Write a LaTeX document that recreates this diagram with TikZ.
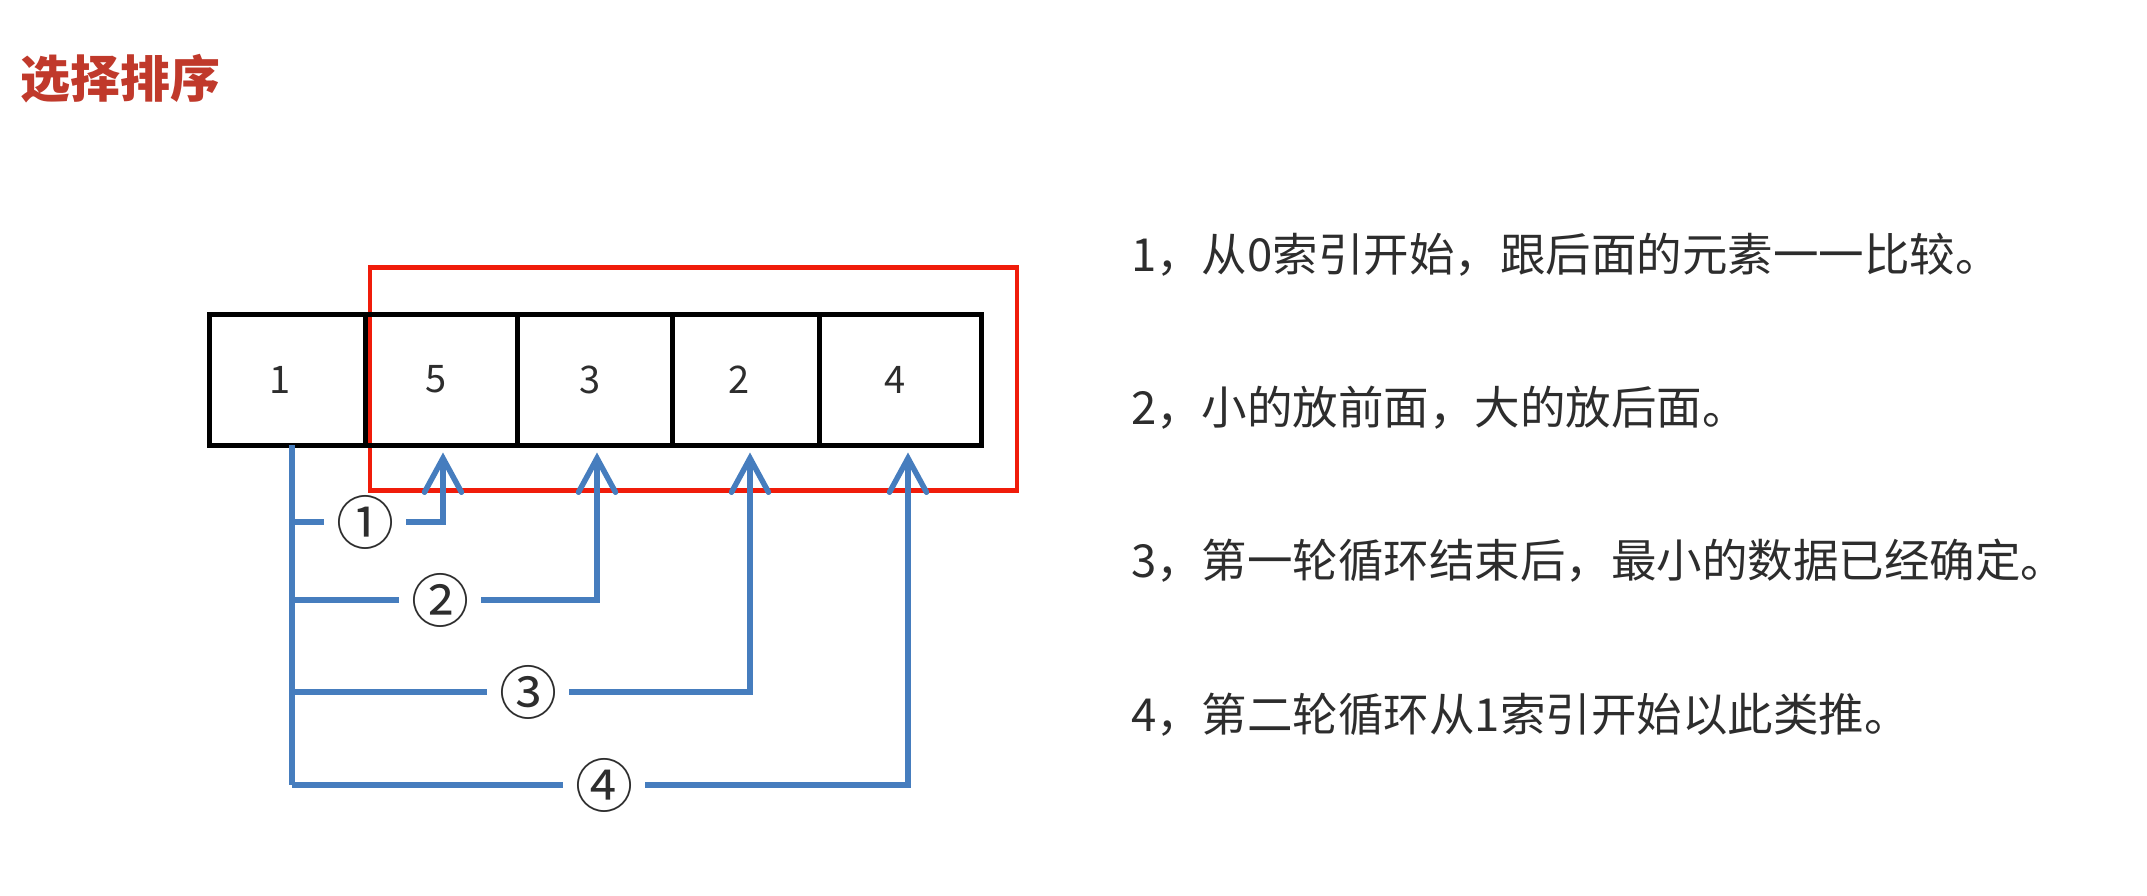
\documentclass[tikz,border=0pt]{standalone}
\usepackage{fontspec}
\newfontfamily\cjk{Noto Sans CJK SC}
\usetikzlibrary{arrows.meta}
\definecolor{titlered}{RGB}{192,57,43}
\definecolor{boxred}{RGB}{240,28,10}
\definecolor{arrowblue}{RGB}{70,125,190}
\definecolor{txtgray}{RGB}{45,45,45}
\tikzset{
  cell/.style={draw=black, line width=5pt, minimum height=131pt, inner sep=0pt,
    font=\cjk\fontsize{38}{44}\selectfont, text=txtgray},
  redbox/.style={draw=boxred, line width=4.5pt, inner sep=0pt},
  bl/.style={draw=arrowblue, line width=5.5pt},
  blarrow/.style={bl, -{Straight Barb[length=34pt,width=37pt,line cap=round]}, shorten >=5pt},
  lab/.style={inner sep=0pt, minimum width=82pt, minimum height=44pt, font=\cjk\fontsize{58}{60}\selectfont, text=txtgray},
  txt/.style={anchor=west, inner sep=0pt, font=\cjk\fontsize{45.5}{50}\selectfont, text=txtgray},
  ttl/.style={anchor=west, inner sep=0pt, font=\cjk\bfseries\fontsize{50}{56}\selectfont, text=titlered}
}
\begin{document}
\begin{tikzpicture}[x=1pt,y=-1pt]
\useasboundingbox[fill=white] (0,0) rectangle (2147,896);
% title
\node[ttl] (title) at (20,79) {选择排序};
% red selection box
\node[redbox, minimum width=647pt, minimum height=223pt] (sel) at (693.5,379) {};
% array cells
\node[cell, minimum width=156pt] (c1) at (287,379.5) {\hspace*{-14pt}1};
\node[cell, minimum width=152pt] (c2) at (441,379.5) {\hspace*{-10pt}5};
\node[cell, minimum width=155pt] (c3) at (594.5,379.5) {\hspace*{-8pt}3};
\node[cell, minimum width=147pt] (c4) at (745.5,379.5) {\hspace*{-12pt}2};
\node[cell, minimum width=162pt] (c5) at (900,379.5) {\hspace*{-10pt}4};
% coordinates
\coordinate (t0) at (292,445);
\coordinate (b1) at (292,522);
\coordinate (b2) at (292,600);
\coordinate (b3) at (292,692);
\coordinate (b4) at (292,785);
\coordinate (a2) at ([xshift=2pt]c2.south);
\coordinate (a3) at ([xshift=2.5pt]c3.south);
\coordinate (a4) at ([xshift=4.5pt]c4.south);
\coordinate (a5) at ([xshift=8pt]c5.south);
% labels
\node[lab] (l1) at (365,522) {①};
\node[lab] (l2) at (440,600) {②};
\node[lab] (l3) at (528,692) {③};
\node[lab] (l4) at (604,785) {④};
% trunk and branches
\draw[bl] (t0) -- (b4);
\draw[bl] (b1) -- (l1.west);
\draw[bl] (b2) -- (l2.west);
\draw[bl] (b3) -- (l3.west);
\draw[bl] (b4) -- (l4.west);
\draw[blarrow] (l1.east) -| (a2);
\draw[blarrow] (l2.east) -| (a3);
\draw[blarrow] (l3.east) -| (a4);
\draw[blarrow] (l4.east) -| (a5);
% explanation text
\node[txt] (s1) at (1131,255) {1，从0索引开始，跟后面的元素一一比较。};
\node[txt] (s2) at (1131,408) {2，小的放前面，大的放后面。};
\node[txt] (s3) at (1131,561) {3，第一轮循环结束后，最小的数据已经确定。};
\node[txt] (s4) at (1131,715) {4，第二轮循环从1索引开始以此类推。};
\end{tikzpicture}
\end{document}
